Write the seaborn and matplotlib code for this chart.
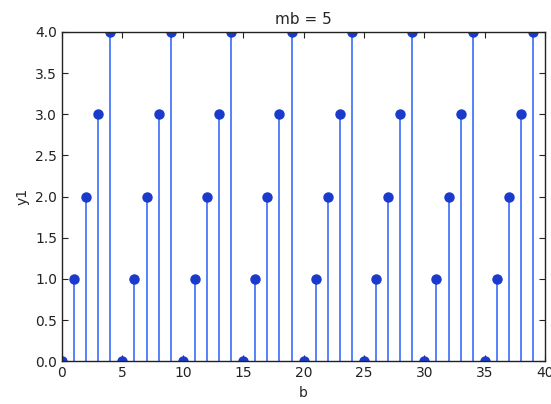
import matplotlib
matplotlib.use("Agg")
import matplotlib.pyplot as plt
import seaborn as sns

# b from 0 to 39, y1 (repeats 0..4)
b = list(range(40))
y1 = [0, 1, 2, 3, 4, 0, 1, 2, 3, 4,
      0, 1, 2, 3, 4, 0, 1, 2, 3, 4,
      0, 1, 2, 3, 4, 0, 1, 2, 3, 4,
      0, 1, 2, 3, 4, 0, 1, 2, 3, 4]

sns.set_style("ticks")
plt.rcParams["font.family"] = ["DejaVu Sans"]

fig = plt.figure(figsize=(5.51, 4.04), dpi=100)
ax = fig.add_axes([0.1125, 0.106, 0.877, 0.815])

markerline, stemlines, baseline = ax.stem(b, y1)
plt.setp(stemlines, color="#3a6cf6", linewidth=1.2)
plt.setp(markerline, color="#1a3acc", markersize=6.5)
baseline.set_visible(False)

ax.set_xlim(0, 40)
ax.set_ylim(0, 4)
ax.set_xticks(range(0, 41, 5))
ax.set_yticks([0, 0.5, 1, 1.5, 2, 2.5, 3, 3.5, 4])
ax.set_yticklabels(["0.0", "0.5", "1.0", "1.5", "2.0", "2.5", "3.0", "3.5", "4.0"])
ax.tick_params(direction="in", top=True, right=True, length=4, labelsize=10, colors="#222222")
for s in ax.spines.values():
    s.set_color("#222222")
    s.set_linewidth(1.0)

ax.set_title("mb = 5", fontsize=11)
ax.set_xlabel("b", fontsize=10)
ax.set_ylabel("y1", fontsize=10)

fig.savefig("out.png", dpi=100)
